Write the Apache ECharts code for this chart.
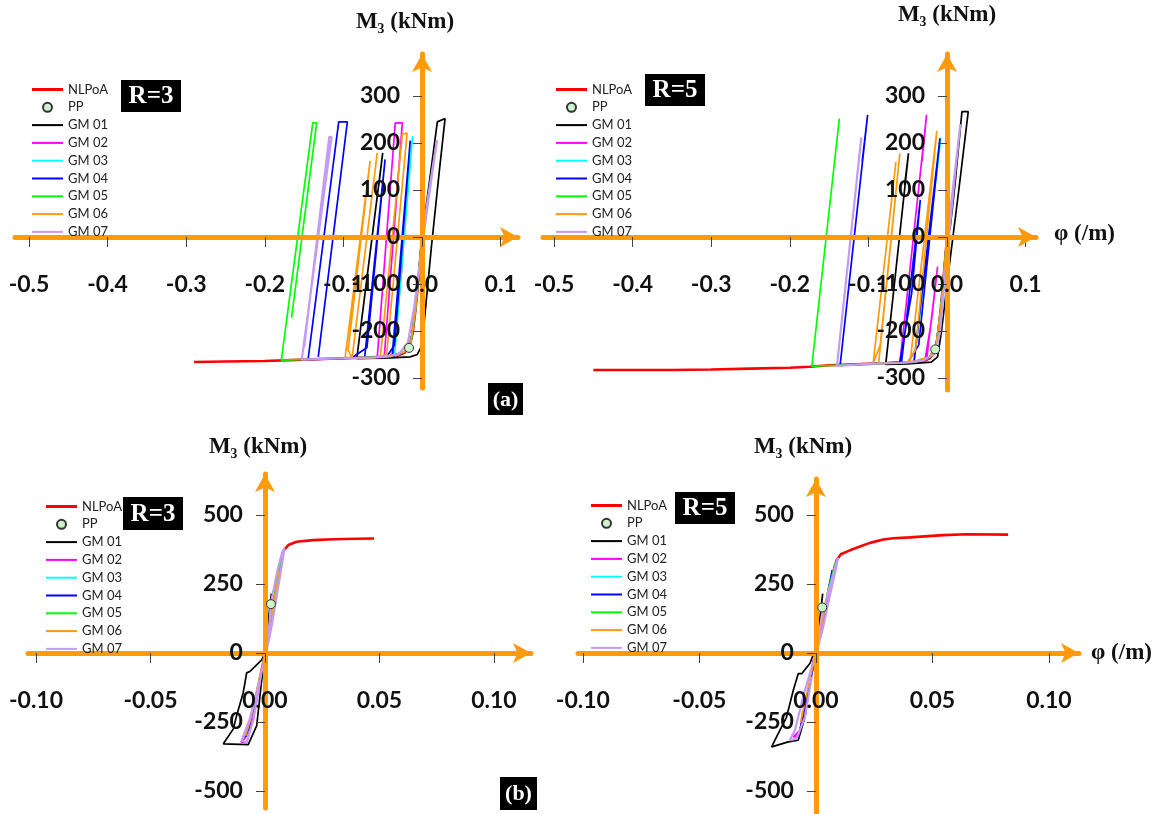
<!DOCTYPE html>
<html lang="en">
<head>
<meta charset="UTF-8">
<title>M3 - phi</title>
<script src="https://cdn.jsdelivr.net/npm/echarts@6/dist/echarts.min.js"></script>
<style>
  html, body { margin: 0; padding: 0; background: #fff; }
  #ec { width: 1166px; height: 814px; }
</style>
</head>
<body>
<div id="ec"></div>
<script>
// tick labels
var phiTicksTop = [-0.5, -0.4, -0.3, -0.2, -0.1, 0, 0.1]
var mTicksTop = [-300, -200, -100, 0, 100, 200, 300]
var phiTicksBot = [-0.10, -0.05, 0, 0.05, 0.10]
var mTicksBot = [-500, -250, 0, 250, 500]
var gmNames = ['GM 01', 'GM 02', 'GM 03', 'GM 04', 'GM 05', 'GM 06', 'GM 07']

// (a) R=3  [phi, M]
var a3_nlpoa = [[0,0],[-0.004,-80],[-0.008,-150],[-0.012,-205],[-0.016,-232],[-0.022,-246],[-0.03,-252],[-0.05,-255],[-0.1,-258],[-0.15,-261],[-0.2,-264],[-0.25,-265],[-0.29,-266]]
var a3_pp = [[-0.0165,-236]]
var a3_gm01 = [[0,0],[0.010,125],[0.0195,245],[0.0293,252],[0.022,140],[0.012,-20],[0.004,-160],[0.0,-230],[-0.006,-250],[-0.015,-255],[-0.04,-257],[-0.083,-259],[-0.050,179],[-0.055,110]]
var a3_gm02 = [[0,0],[-0.008,-150],[-0.014,-222],[-0.022,-244],[-0.037,-252],[-0.025,-53],[-0.030,-140],[-0.037,-250],[-0.045,-255],[-0.057,-257],[-0.034,243],[-0.025,243],[-0.048,-254]]
var a3_gm03 = [[0,0],[-0.008,-150],[-0.014,-222],[-0.022,-244],[-0.035,-253],[-0.012,215],[-0.020,90]]
var a3_gm04 = [[0,0],[-0.008,-150],[-0.014,-222],[-0.022,-244],[-0.038,-254],[-0.015,205],[-0.035,-230],[-0.045,-255],[-0.073,-257],[-0.047,165],[-0.070,-235],[-0.09,-258],[-0.145,-261],[-0.106,245],[-0.095,245],[-0.132,-255]]
var a3_gm05 = [[0,0],[-0.008,-150],[-0.014,-222],[-0.022,-244],[-0.04,-254],[-0.1,-258],[-0.179,-262],[-0.139,243],[-0.134,243],[-0.166,-172]]
var a3_gm06 = [[0,0],[-0.008,-150],[-0.014,-222],[-0.022,-244],[-0.04,-254],[-0.053,-256],[-0.025,219],[-0.019,221],[-0.045,-250],[-0.06,-257],[-0.098,-259],[-0.066,162],[-0.094,-240],[-0.089,-258],[-0.057,179]]
var a3_gm07 = [[0,0],[0.010,110],[0.019,206],[0.010,100],[0,-20],[-0.010,-150],[-0.018,-225],[-0.03,-250],[-0.06,-256],[-0.1,-258],[-0.153,-261],[-0.115,213],[-0.118,213],[-0.150,-235]]

// (a) R=5
var a5_nlpoa = [[0,0],[-0.004,-80],[-0.008,-155],[-0.012,-215],[-0.016,-245],[-0.022,-258],[-0.03,-264],[-0.05,-267],[-0.1,-270],[-0.15,-273],[-0.175,-276],[-0.2,-278],[-0.25,-280],[-0.3,-282],[-0.35,-283],[-0.45,-283]]
var a5_pp = [[-0.015,-239]]
var a5_gm01 = [[0,0],[0.004,20],[0.010,110],[0.019,267],[0.027,267],[0.015,100],[0.003,-60],[-0.007,-200],[-0.012,-255],[-0.02,-266],[-0.05,-270],[-0.078,-271],[-0.049,178],[-0.054,110]]
var a5_gm02 = [[0,0],[-0.008,-155],[-0.014,-232],[-0.022,-255],[-0.026,-262],[-0.012,-63],[-0.020,-180],[-0.028,-262],[-0.04,-266],[-0.060,-268],[-0.026,260],[-0.032,160]]
var a5_gm03 = [[0,0],[-0.008,-155],[-0.014,-232],[-0.022,-255],[-0.042,-266],[-0.008,212],[-0.014,120]]
var a5_gm04 = [[0,0],[-0.008,-155],[-0.014,-232],[-0.022,-255],[-0.042,-266],[-0.009,210],[-0.036,-230],[-0.05,-267],[-0.058,-268],[-0.034,79],[-0.045,-120],[-0.06,-266],[-0.1,-270],[-0.136,-273],[-0.101,260],[-0.108,160]]
var a5_gm05 = [[0,0],[-0.008,-155],[-0.014,-232],[-0.022,-255],[-0.04,-266],[-0.1,-270],[-0.172,-275],[-0.137,252]]
var a5_gm06 = [[0,0],[-0.008,-155],[-0.014,-232],[-0.022,-255],[-0.047,-267],[-0.013,226],[-0.040,-240],[-0.05,-267],[-0.087,-269],[-0.060,178],[-0.085,-230],[-0.094,-269],[-0.065,160]]
var a5_gm07 = [[0,0],[0.008,110],[0.017,240],[0.010,130],[0.0,-40],[-0.009,-204],[-0.016,-248],[-0.03,-263],[-0.06,-268],[-0.1,-270],[-0.140,-274],[-0.109,212],[-0.115,120]]

// (b) R=3
var b3_nlpoa = [[0,0],[0.002,95],[0.004,190],[0.006,280],[0.008,370],[0.0102,391],[0.0138,403],[0.0211,409],[0.03,412],[0.04,414],[0.0476,415]]
var b3_pp = [[0.0026,177]]
var b3_gm01 = [[0,0],[0.0015,120],[0.0028,215],[0.0012,90],[0,0],[-0.0014,-25],[-0.0066,-67],[-0.008,-72],[-0.0095,-144],[-0.0124,-227],[-0.0138,-275],[-0.0182,-329],[-0.0189,-335],[-0.0073,-332],[-0.0036,-263],[-0.0014,-96],[0,-10]]
var b3_gm02 = [[0,0],[0.003,150],[0.0055,260],[0.0078,355],[0.005,240],[0.002,90],[0,0],[-0.002,-80],[-0.004,-160],[-0.0065,-250],[-0.0088,-310],[-0.0105,-322],[-0.008,-325],[-0.005,-230],[-0.002,-100]]
var b3_gm03 = [[0,0],[0.003,150],[0.0058,280],[0.003,160],[0,0],[-0.003,-120],[-0.0055,-215],[-0.004,-160]]
var b3_gm04 = [[0,0],[0.003,150],[0.0068,330],[0.004,200],[0,0],[-0.003,-120],[-0.0068,-265],[-0.0085,-305],[-0.006,-230]]
var b3_gm05 = [[0,0],[0.0008,20],[0.003,150],[0.0052,262],[0.0058,290],[0.0082,365],[0.006,280],[0.003,130]]
var b3_gm06 = [[0,0],[0.003,140],[0.0062,295],[0.003,150],[0,0],[-0.003,-110],[-0.0062,-240],[-0.0085,-300],[-0.0072,-250]]
var b3_gm07 = [[0,0],[0.0015,40],[0.0025,178],[0.0055,300],[0.0075,365],[0.0085,380],[0.0078,340],[0.0058,240],[0.003,100],[0.001,20],[-0.0022,-96],[-0.0066,-239],[-0.0102,-317],[-0.0108,-322],[-0.008,-325],[-0.005,-240],[-0.0015,-70]]

// (b) R=5
var b5_nlpoa = [[0,0],[0.002,80],[0.0045,170],[0.0065,255],[0.0089,337],[0.0107,358],[0.0146,372],[0.0189,386],[0.0232,399],[0.0289,411],[0.0332,416],[0.0403,419],[0.0546,427],[0.0647,430],[0.0825,429]]
var b5_pp = [[0.0027,165]]
var b5_gm01 = [[0,0],[0.0015,110],[0.0029,215],[0.0015,100],[0,0],[-0.0012,-8],[-0.0026,-38],[-0.0061,-75],[-0.0076,-75],[-0.0097,-135],[-0.0126,-232],[-0.0169,-304],[-0.019,-340],[-0.0119,-322],[-0.0076,-316],[-0.0047,-232],[-0.0026,-111],[-0.0012,-27]]
var b5_gm02 = [[0,0],[0.003,130],[0.0055,230],[0.0082,325],[0.0055,220],[0.002,80],[0,0],[-0.0033,-147],[-0.0069,-280],[-0.0097,-304],[-0.0075,-300],[-0.004,-180]]
var b5_gm03 = [[0,0],[0.003,130],[0.006,255],[0.003,130],[0,0],[-0.004,-170],[-0.0025,-110]]
var b5_gm04 = [[0,0],[0.003,130],[0.007,300],[0.0035,150],[0,0],[-0.0045,-190],[-0.0068,-275],[-0.0052,-230]]
var b5_gm05 = [[0,0],[0.0003,10],[0.003,130],[0.0053,227],[0.006,251],[0.0085,330],[0.006,250],[0.003,130]]
var b5_gm06 = [[0,0],[0.003,125],[0.0055,240],[0.002,90],[0,0],[-0.0035,-130],[-0.0065,-250],[-0.0058,-210]]
var b5_gm07 = [[0,0],[0.0003,10],[0.0024,130],[0.006,239],[0.0091,336],[0.0095,345],[0.0082,290],[0.0055,190],[0.003,90],[0.0005,10],[-0.0018,-51],[-0.0055,-159],[-0.009,-280],[-0.0112,-316],[-0.0083,-310],[-0.0047,-232],[-0.0018,-87]]

var ORANGE = '#FF9A0A'
var gmColors = ['#000000', '#FF00FF', '#00FFFF', '#0000FF', '#00FF00', '#FF9A0A', '#C49BF0']
var numFont = 'Lato, "Open Sans", sans-serif'
var serif = '"Liberation Serif", "DejaVu Serif", serif'

var panels = [
    { grid: { left: 15, top: 54, width: 503, height: 334 }, x: [-0.5178, 0.1221], y: [-321.3, 389.4],
      xt: phiTicksTop, yt: mTicksTop, dec: 1, legend: { left: 27, top: 78 },
      nlpoa: a3_nlpoa, pp: a3_pp, gm: [a3_gm01, a3_gm02, a3_gm03, a3_gm04, a3_gm05, a3_gm06, a3_gm07] },
    { grid: { left: 543, top: 54, width: 493, height: 336 }, x: [-0.514, 0.1132], y: [-325.5, 389.4],
      xt: phiTicksTop, yt: mTicksTop, dec: 1, legend: { left: 551, top: 78 },
      nlpoa: a5_nlpoa, pp: a5_pp, gm: [a5_gm01, a5_gm02, a5_gm03, a5_gm04, a5_gm05, a5_gm06, a5_gm07] },
    { grid: { left: 28, top: 474, width: 503, height: 334 }, x: [-0.1035, 0.1162], y: [-561.6, 648.5],
      xt: phiTicksBot, yt: mTicksBot, dec: 2, legend: { left: 41, top: 495 },
      nlpoa: b3_nlpoa, pp: b3_pp, gm: [b3_gm01, b3_gm02, b3_gm03, b3_gm04, b3_gm05, b3_gm06, b3_gm07] },
    { grid: { left: 578, top: 479, width: 501, height: 335 }, x: [-0.1021, 0.1129], y: [-583.3, 630.4],
      xt: phiTicksBot, yt: mTicksBot, dec: 2, legend: { left: 586, top: 494 },
      nlpoa: b5_nlpoa, pp: b5_pp, gm: [b5_gm01, b5_gm02, b5_gm03, b5_gm04, b5_gm05, b5_gm06, b5_gm07] }
]

var grids = [], xAxes = [], yAxes = [], series = [], legends = []
var lineIcon = 'path://M0,0L31,0L31,2L0,2Z'
var redIcon = 'path://M0,0L31,0L31,3L0,3Z'

panels.forEach(function (p, i) {
    var g = p.grid
    grids.push({ left: g.left, top: g.top, width: g.width, height: g.height, outerBoundsMode: 'none', containLabel: false })
    // the axes cross at (0, 0): shift them in from the grid edges
    var x0 = g.width * (-p.x[0]) / (p.x[1] - p.x[0])
    var y0 = g.height * p.y[1] / (p.y[1] - p.y[0])
    var axisLine = { onZero: false, symbol: ['none', 'arrow'], symbolSize: [15, 18],
                     lineStyle: { color: ORANGE, width: 5 } }
    xAxes.push({
        type: 'value', gridIndex: i, min: p.x[0], max: p.x[1], z: 3,
        position: 'bottom', offset: -(g.height - y0),
        axisLine: axisLine, splitLine: { show: false },
        axisTick: { customValues: p.xt, length: 10, lineStyle: { color: '#444', width: 1 } },
        axisLabel: { customValues: p.xt, margin: 36, color: '#111', fontSize: 23, fontWeight: 'bold',
                     fontFamily: numFont, formatter: function (v) { return v.toFixed(p.dec) } }
    })
    yAxes.push({
        type: 'value', gridIndex: i, min: p.y[0], max: p.y[1], z: 3,
        position: 'left', offset: -x0,
        axisLine: axisLine, splitLine: { show: false },
        axisTick: { customValues: p.yt, length: 9, lineStyle: { color: '#444', width: 1 } },
        axisLabel: { customValues: p.yt, margin: 22, color: '#111', fontSize: 23, fontWeight: 'bold',
                     fontFamily: numFont }
    })
    series.push({ name: 'NLPoA', type: 'line', xAxisIndex: i, yAxisIndex: i, data: p.nlpoa,
                  symbol: 'none', lineStyle: { color: '#FF0000', width: 2.6 }, itemStyle: { color: '#FF0000' }, z: 2 })
    p.gm.forEach(function (d, k) {
        series.push({ name: gmNames[k], type: 'line', xAxisIndex: i, yAxisIndex: i, data: d,
                      symbol: 'none', lineStyle: { color: gmColors[k], width: k == 6 ? 2.2 : 1.7 },
                      itemStyle: { color: gmColors[k] }, z: 2 })
    })
    series.push({ name: 'PP', type: 'scatter', xAxisIndex: i, yAxisIndex: i, data: p.pp, symbolSize: 9,
                  itemStyle: { color: '#CDF3CD', borderColor: '#333', borderWidth: 1, opacity: 1 }, z: 5 })
    legends.push({
        left: p.legend.left, top: p.legend.top, orient: 'vertical', selectedMode: false,
        itemWidth: 31, itemHeight: 9, itemGap: 4.8,
        textStyle: { fontSize: 13, fontFamily: numFont, color: '#222' },
        data: [{ name: 'NLPoA', icon: redIcon }, { name: 'PP', icon: 'circle' }].concat(
            gmNames.map(function (n) { return { name: n, icon: lineIcon } }))
    })
})

function txt(x, y, s, size, color, align) {
    return { type: 'text', x: x, y: y, z: 10,
             style: { text: s, fill: color || '#111', font: 'bold ' + size + 'px ' + serif,
                      textAlign: align || 'center', textVerticalAlign: 'middle',
                      align: align || 'center', verticalAlign: 'middle' } }
}
function box(x, y, w, h, s, size) {
    return [
        { type: 'rect', z: 9, shape: { x: x, y: y, width: w, height: h }, style: { fill: '#000' } },
        txt(x + w / 2, y + h / 2 + 1, s, size, '#fff')
    ]
}

var graphics = [
    txt(405, 22, 'M\u2083 (kNm)', 23), txt(947, 15, 'M\u2083 (kNm)', 23),
    txt(258, 447, 'M\u2083 (kNm)', 23), txt(803, 447, 'M\u2083 (kNm)', 23),
    txt(1054, 234, '\u03c6 (/m)', 23, '#111', 'left'), txt(1091, 653, '\u03c6 (/m)', 23, '#111', 'left')
].concat(box(121, 80, 60, 32, 'R=3', 25), box(645, 74, 60, 32, 'R=5', 25),
         box(123, 497, 60, 33, 'R=3', 25), box(675, 492, 60, 32, 'R=5', 25),
         box(488, 383, 35, 32, '(a)', 22), box(500, 777, 37, 33, '(b)', 22))

var mychart = echarts.init(document.getElementById('ec'))
mychart.setOption({
    animation: false,
    backgroundColor: '#fff',
    grid: grids,
    xAxis: xAxes,
    yAxis: yAxes,
    legend: legends,
    series: series,
    graphic: graphics
})
</script>
</body>
</html>
